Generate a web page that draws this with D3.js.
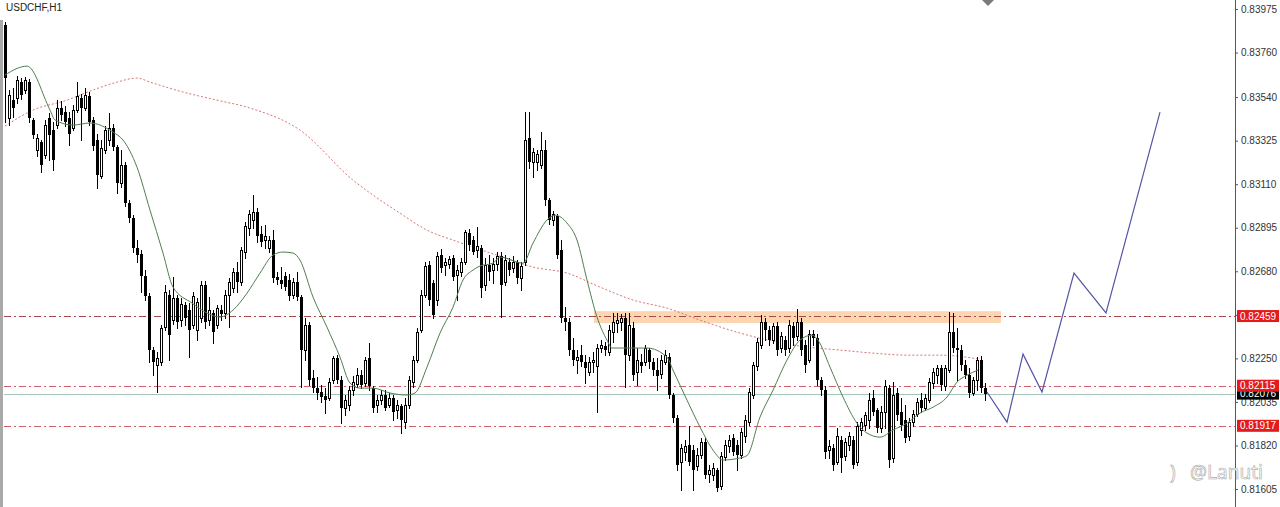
<!DOCTYPE html>
<html><head><meta charset="utf-8">
<script src="https://cdn.jsdelivr.net/npm/d3@7"></script>
<style>
html,body{margin:0;padding:0;background:#fff;}
svg{display:block;}
</style></head>
<body>
<svg id="chart" width="1280" height="507"></svg>
<script>
// ===== DATA (prices in points, 1 point = 0.00001) =====
const POINT = 1e-5;
const title = "USDCHF,H1";
const yTicks = [0.83975,0.83760,0.83540,0.83325,0.83110,0.82895,0.82680,0.82465,0.82250,0.82035,0.81820,0.81605];
// hourly candles [open, high, low, close]
const candles = [
[83896,83910,83417,83634],[83436,83575,83402,83550],[83525,83585,83441,83486],[83535,83644,83510,83624],
[83614,83634,83530,83550],[83575,83639,83560,83624],[83614,83629,83417,83436],[83427,83436,83338,83352],
[83278,83357,83249,83338],[83318,83328,83170,83204],[83254,83427,83239,83402],[83436,83461,83229,83352],
[83377,83417,83180,83229],[83402,83525,83387,83486],[83486,83520,83427,83451],[83466,83496,83397,83417],
[83436,83466,83303,83357],[83387,83501,83377,83476],[83476,83614,83466,83545],[83535,83555,83328,83486],
[83486,83585,83476,83550],[83545,83565,83402,83417],[83427,83441,83278,83298],[83328,83357,83091,83155],
[83150,83328,83140,83288],[83278,83397,83264,83377],[83328,83461,83303,83387],[83387,83407,83278,83293],
[83293,83303,83066,83115],[83115,83278,83096,83204],[83204,83219,83002,83017],[83017,83032,82923,82943],
[82943,82957,82775,82795],[82795,82834,82725,82760],[82765,82785,82577,82656],[82656,82686,82538,82558],
[82558,82572,82232,82291],[82291,82306,82167,82232],[82217,82281,82084,82251],[82232,82414,82217,82400],
[82404,82612,82390,82577],[82562,82587,82242,82365],[82439,82651,82419,82548],[82548,82562,82400,82429],
[82439,82548,82409,82518],[82513,82528,82414,82449],[82488,82523,82256,82390],[82414,82577,82400,82558],
[82390,82548,82340,82528],[82449,82632,82429,82612],[82612,82632,82400,82429],[82439,82553,82414,82488],
[82474,82488,82325,82380],[82414,82513,82400,82498],[82488,82513,82439,82469],[82474,82587,82449,82562],
[82562,82646,82404,82627],[82597,82696,82577,82676],[82676,82725,82577,82627],[82627,82799,82612,82785],
[82775,82923,82745,82903],[82893,82982,82859,82962],[82933,83056,82893,82972],[82972,82992,82824,82854],
[82864,82903,82804,82824],[82834,82908,82795,82854],[82795,82854,82775,82834],[82834,82883,82627,82646],
[82651,82676,82617,82637],[82637,82701,82597,82617],[82656,82676,82587,82602],[82637,82666,82538,82558],
[82562,82646,82548,82627],[82627,82676,82538,82553],[82553,82562,82108,82291],[82291,82449,82242,82414],
[82414,82429,82118,82143],[82153,82192,82084,82103],[82103,82158,82049,82079],[82084,82118,82034,82059],
[82064,82103,81980,82044],[82054,82153,82044,82133],[82143,82261,82128,82251],[82251,82266,82128,82143],
[82143,82163,81930,82005],[82005,82069,81970,82044],[82019,82113,81995,82093],[82093,82163,82069,82133],
[82123,82202,82108,82167],[82167,82192,82103,82118],[82128,82256,82113,82242],[82251,82325,82093,82113],
[82103,82113,81985,82005],[82019,82069,81985,82044],[82044,82093,82024,82069],[82069,82093,81995,82005],
[82019,82079,82009,82054],[82054,82069,81945,81985],[81995,82044,81955,82019],[82014,82024,81881,81945],
[81935,82054,81906,82019],[82019,82163,82005,82143],[82133,82261,82108,82242],[82242,82400,82232,82380],
[82390,82587,82380,82562],[82562,82725,82553,82706],[82711,82730,82513,82538],[82622,82637,82449,82464],
[82538,82775,82513,82755],[82760,82790,82676,82696],[82711,82745,82661,82725],[82716,82755,82696,82740],
[82745,82760,82637,82651],[82661,82711,82538,82686],[82676,82745,82656,82725],[82725,82883,82716,82874],
[82869,82888,82785,82809],[82834,82854,82765,82775],[82785,82898,82750,82804],[82795,82809,82553,82597],
[82612,82745,82587,82711],[82711,82760,82637,82676],[82686,82745,82622,82716],[82716,82775,82686,82755],
[82755,82775,82454,82612],[82627,82760,82612,82735],[82725,82745,82661,82686],[82696,82755,82676,82725],
[82725,82735,82622,82646],[82646,82725,82587,82706],[82725,83466,82711,83328],[83338,83466,83190,83219],
[83219,83288,83145,83269],[83219,83278,83180,83259],[83204,83367,83190,83278],[83278,83328,83007,83032],
[83032,83041,82913,82933],[82933,82977,82908,82962],[82953,82962,82745,82760],[82785,82834,82429,82449],
[82449,82503,82390,82429],[82429,82449,82266,82291],[82291,82350,82217,82242],[82242,82291,82177,82256],
[82266,82316,82212,82232],[82232,82266,82128,82202],[82182,82256,82167,82232],[82232,82281,82182,82242],
[82212,82321,81985,82301],[82301,82340,82281,82316],[82311,82330,82266,82291],[82281,82414,82266,82390],
[82380,82474,82330,82429],[82424,82474,82380,82439],[82429,82469,82390,82449],[82449,82474,82108,82266],
[82266,82474,82242,82414],[82400,82429,82143,82167],[82182,82301,82118,82242],[82232,82271,82182,82212],
[82232,82316,82217,82301],[82291,82301,82202,82232],[82232,82251,82167,82192],[82192,82251,82093,82163],
[82172,82266,82153,82242],[82232,82291,82222,82266],[82256,82276,82054,82069],[82069,82079,81935,81955],
[81955,81970,81698,81723],[81738,81827,81600,81807],[81787,81847,81748,81817],[81822,81916,81723,81738],
[81797,81822,81600,81698],[81718,81807,81698,81772],[81772,81856,81758,81837],[81837,81856,81659,81674],
[81679,81723,81639,81698],[81674,81733,81649,81708],[81698,81708,81595,81610],[81619,81787,81605,81768],
[81763,81847,81748,81822],[81817,81871,81787,81847],[81856,81876,81772,81787],[81822,81847,81698,81772],
[81772,81906,81758,81886],[81866,81970,81837,81945],[81935,82103,81921,82084],[82069,82232,82054,82217],
[82212,82350,82192,82330],[82316,82464,82301,82429],[82429,82449,82340,82390],[82390,82409,82316,82340],
[82340,82424,82325,82409],[82409,82429,82266,82291],[82301,82380,82281,82360],[82340,82360,82266,82291],
[82301,82439,82281,82414],[82409,82429,82316,82350],[82360,82493,82340,82429],[82429,82449,82266,82291],
[82316,82340,82182,82217],[82242,82390,82232,82370],[82370,82390,82316,82350],[82350,82370,82118,82143],
[82143,82158,82069,82093],[82093,82113,81758,81787],[81797,81847,81758,81817],[81807,81827,81698,81723],
[81738,81906,81728,81866],[81847,81866,81689,81758],[81768,81856,81748,81837],[81822,81886,81797,81866],
[81847,81866,81708,81723],[81738,81935,81723,81916],[81896,81955,81871,81935],[81921,81985,81896,81970],
[81945,82079,81906,82044],[82054,82093,81970,81985],[81995,82005,81886,81906],[81906,82014,81886,81985],
[81985,82143,81906,82113],[82103,82118,81713,81748],[81758,82133,81738,82069],[82079,82103,81945,81970],
[81985,82054,81896,81921],[81945,82019,81837,81856],[81866,81955,81847,81935],[81935,81995,81916,81975],
[81975,82054,81965,82034],[82044,82079,81985,82005],[82005,82074,81995,82054],[82044,82153,82034,82133],
[82128,82202,82103,82182],[82167,82217,82128,82202],[82202,82217,82093,82118],[82113,82217,82093,82202],
[82192,82479,82182,82380],[82380,82474,82281,82301],[82301,82400,82143,82291],[82291,82316,82192,82217],
[82217,82242,82153,82167],[82167,82202,82059,82079],[82079,82158,82069,82143],[82143,82256,82093,82242],
[82242,82261,82084,82103],[82103,82128,82044,82076]
];
// fast moving average (green): [bar index, price points]
const fastMA = [[0,83649],[5.5,83693],[11.25,83476],[12.5,83427],[17,83402],[21.25,83412],[27,83367],[29.5,83328],
[33,83194],[36.25,82982],[39.5,82770],[42,82602],[46.75,82523],[50.5,82474],[53.75,82454],[57,82488],[60.5,82572],
[63.75,82671],[67,82760],[69.5,82775],[72,82770],[73.75,82735],[77,82553],[80.5,82404],[83.75,82256],[86.25,82128],
[88.75,82103],[92,82103],[96.25,82079],[100.5,82069],[102.5,82079],[105.5,82207],[108.75,82375],[112,82503],
[114.5,82637],[117,82686],[118.75,82706],[122,82720],[123.75,82750],[129.5,82720],[132,82819],[135.5,82933],
[137.5,82957],[140.5,82918],[143,82834],[145.5,82637],[148,82454],[150.5,82340],[151.75,82301],[155.5,82301],
[160.5,82301],[165.5,82256],[167,82192],[170.5,82044],[173.75,81911],[177,81797],[179.5,81748],[183,81755],
[185.5,81770],[188.75,81960],[192,82093],[195.5,82242],[198.75,82340],[201.75,82365],[203.25,82340],[206.25,82207],
[209.5,82059],[213,81930],[215.5,81881],[218.75,81861],[222,81896],[225.5,81930],[228.75,81980],[232,82009],
[235.5,82059],[238,82133],[240.5,82167],[243.25,82192]];
// slow moving average (red dotted)
const slowMA = [[0,83397],[7,83476],[15.5,83525],[22,83575],[28,83614],[33,83634],[36.25,83614],[44.5,83565],
[53,83525],[61.25,83486],[73.75,83377],[87,83130],[93.75,83032],[98.75,82967],[105.5,82883],[112,82834],
[117,82799],[123.75,82755],[132,82701],[140.5,82671],[148.75,82602],[157,82538],[165.5,82498],[173.75,82439],
[183.75,82375],[200.5,82306],[208.75,82291],[217,82276],[225.5,82266],[233.75,82266],[243.75,82246]];
// projected path (hand-drawn zig-zag)
const projection = [[245.5,82084],[250.5,81935],[254.5,82271],[259.25,82084],[267.25,82671],[275.25,82474],[288.75,83466]];
// horizontal levels
const levels = [0.82459, 0.82115, 0.81917];
const currentPrice = 0.82076;
// resistance zone [from bar, to bar, top price, bottom price]
const zone = [147.25, 249, 0.82483, 0.82424];

// ===== SCALES =====
const svg = d3.select("#chart");
const x = d3.scaleLinear().domain([0, 245]).range([5, 985]);
const y = d3.scaleLinear().domain([0.81605, 0.83975]).range([489, 9]);
const AX = 1235;
const FONT = "'Liberation Sans', Arial, sans-serif";

// left border
svg.append("rect").attr("x",0).attr("y",20).attr("width",3).attr("height",487).attr("fill","#a9a9a9");

// zone
svg.append("rect")
  .attr("x", x(zone[0])).attr("width", x(zone[1]) - x(zone[0]))
  .attr("y", y(zone[2])).attr("height", y(zone[3]) - y(zone[2]))
  .attr("fill", "#fcd6b0");

// current price line
svg.append("line").attr("x1",4).attr("x2",AX)
  .attr("y1", Math.round(y(currentPrice))+0.5).attr("y2", Math.round(y(currentPrice))+0.5)
  .attr("stroke","#a6c6ba").attr("stroke-width",1);

// level lines
levels.forEach((v,k)=>{
  const yy = Math.round(y(v))+0.5;
  svg.append("line").attr("x1",4).attr("x2",AX).attr("y1",yy).attr("y2",yy)
    .attr("stroke", k===0 ? "#a84848" : "#d2606c").attr("stroke-width",1)
    .attr("stroke-dasharray","7,3,2,3");
});

// slow MA
const line = d3.line().x(d=>x(d[0])).y(d=>y(d[1]*POINT)).curve(d3.curveMonotoneX);
svg.append("path").datum(slowMA).attr("d",line).attr("fill","none")
  .attr("stroke","#d87474").attr("stroke-width",1).attr("stroke-dasharray","2,2");

// candles
const g = svg.append("g");
candles.forEach((c,i)=>{
  const [o,h,l,cl] = c.map(v=>v*POINT);
  const cx = Math.round(x(i));
  const hi = Math.max(h,o,cl), lo = Math.min(l,o,cl);
  g.append("line").attr("x1",cx+0.5).attr("x2",cx+0.5)
    .attr("y1",Math.round(y(hi))).attr("y2",Math.round(y(lo))+1)
    .attr("stroke","#000").attr("stroke-width",1);
  const top = Math.round(y(Math.max(o,cl))), bot = Math.round(y(Math.min(o,cl)));
  if (cl >= o) {
    const hgt = Math.max(bot-top,1);
    g.append("rect").attr("x",cx-0.5).attr("y",top+0.5).attr("width",2).attr("height",hgt)
      .attr("fill","#fff").attr("stroke","#000").attr("stroke-width",1);
  } else {
    g.append("rect").attr("x",cx-1).attr("y",top).attr("width",3).attr("height",Math.max(bot-top,1))
      .attr("fill","#000");
  }
});

// fast MA
svg.append("path").datum(fastMA).attr("d",line).attr("fill","none")
  .attr("stroke","#4f7f4f").attr("stroke-width",1);

// projection
svg.append("path").datum(projection).attr("d", d3.line().x(d=>x(d[0])).y(d=>y(d[1]*POINT)))
  .attr("fill","none").attr("stroke","#5656a6").attr("stroke-width",1.2);

// right axis
svg.append("line").attr("x1",AX+0.5).attr("x2",AX+0.5).attr("y1",0).attr("y2",507).attr("stroke","#555");
const axis = svg.append("g").attr("transform",`translate(${AX},0)`)
  .call(d3.axisRight(y).tickValues(yTicks).tickFormat(d3.format(".5f")).tickSize(3).tickPadding(3));
axis.select(".domain").remove();
axis.selectAll("line").attr("stroke","#555");
axis.selectAll("text").attr("fill","#333").style("font-family",FONT).style("font-size","10px");

// price labels
function tag(v, bg){
  const yy = y(v);
  svg.append("rect").attr("x",AX+2).attr("y",yy-6).attr("width",42).attr("height",12).attr("fill",bg);
  svg.append("text").attr("x",AX+5).attr("y",yy).attr("dy","0.36em").text(d3.format(".5f")(v))
    .attr("fill","#fff").style("font-family",FONT).style("font-size","10px");
}
tag(currentPrice, "#000");
levels.forEach(v=>tag(v, "#e51b1b"));

// title
svg.append("text").attr("x",6).attr("y",11).text(title)
  .attr("fill","#222").style("font-family",FONT).style("font-size","10px");

// top marker
svg.append("path").attr("d","M982,0 L994,0 L988,6 Z").attr("fill","#7a7a7a");

// watermark
svg.append("text").attr("x",1170).attr("y",479).text(")")
  .attr("fill","#fff").attr("stroke","#a8a8a8").attr("stroke-width",0.6)
  .style("font-family","'Noto Sans', sans-serif").style("font-size","19px");
svg.append("text").attr("x",1190).attr("y",479).text("@Lanuti")
  .attr("fill","#fff").attr("stroke","#a8a8a8").attr("stroke-width",0.6)
  .style("font-family","'Noto Sans', sans-serif").style("font-size","19px");
</script>
</body></html>
